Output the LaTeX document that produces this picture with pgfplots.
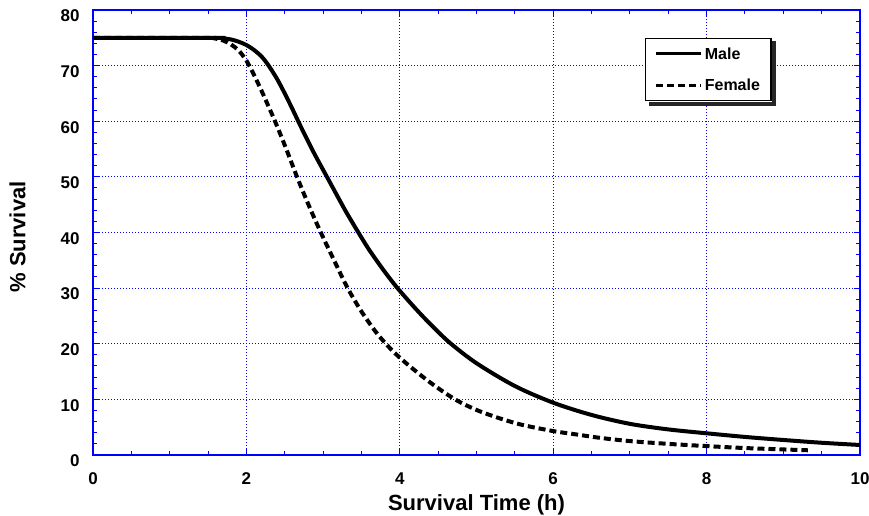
\documentclass[border=0pt]{standalone}
\usepackage{fontspec}
\setmainfont{Liberation Sans}
\usepackage{pgfplots}
\pgfplotsset{compat=1.18}
\begin{document}
\begin{tikzpicture}
\useasboundingbox (0,0) rectangle (869pt,516pt);
\begin{axis}[
  at={(93pt,61pt)}, anchor=south west,
  scale only axis, width=767pt, height=445pt,
  xmin=0, xmax=10, ymin=0, ymax=80,
  xtick={0,2,...,10}, ytick={0,10,...,80},
  minor x tick num=3, minor y tick num=4,
  tick align=inside,
  major tick length=6pt, minor tick length=4pt,
  axis line style={color=blue, line width=1.2pt},
  every tick/.style={color=blue, line width=1pt},
  grid=major,
  grid style={color=blue},
  major grid style={color=blue, line width=1pt, dash pattern=on 1pt off 2pt},
  /pgf/number format/assume math mode=true,
  tick label style={font=\fontsize{17}{17}\selectfont\bfseries},
  xticklabel style={yshift=-14pt},
  yticklabel style={xshift=-10pt, yshift=-6pt},
  xlabel={Survival Time (h)},
  ylabel={\% Survival},
  label style={font=\fontsize{22}{22}\selectfont\bfseries},
  xlabel style={at={(axis description cs:0.5,-0.1236)}, anchor=base},
  ylabel style={at={(axis description cs:-0.0984,0.49)}, anchor=center, rotate=0},
  legend style={name=leg, at={(axis cs:7.2,75)}, anchor=north west, draw=black,
    line width=1.2pt, fill=white,
    font=\fontsize{16}{16}\selectfont\bfseries,
    inner xsep=9pt, inner ysep=7pt, row sep=14pt},
  legend cell align=left,
  legend image code/.code={\draw[#1, line width=3pt] (0pt,0pt) -- (45pt,0pt);},
]
\addplot[black, line width=4pt, smooth, tension=0.5] coordinates {
(0,75) (1.6,75) (1.7,74.9) (1.8,74.7) (1.9,74.3) (2.0,73.7) (2.1,72.8)
(2.2,71.6) (2.29,70) (2.4,67.6) (2.5,65.0) (2.6,62.2) (2.7,59.3)
(2.8,56.5) (2.9,53.8) (3.05,50) (3.2,46.2) (3.3,43.7) (3.46,40)
(3.6,36.9) (3.8,33.0) (3.97,30) (4.2,26.4) (4.4,23.5) (4.65,20.2)
(5.0,16.5) (5.5,12.4) (6.0,9.4) (6.5,7.2) (7.0,5.6) (7.5,4.6)
(8.0,3.9) (8.5,3.25) (9.0,2.7) (9.5,2.2) (10,1.8)
};
\addlegendentry{Male}
\addplot[black, line width=4pt, dash pattern=on 7pt off 4pt, smooth, tension=0.5] coordinates {
(0,75) (1.5,75) (1.6,74.85) (1.7,74.5) (1.8,73.8) (1.9,72.7) (2.0,70.9)
(2.1,68.3) (2.2,65.4) (2.3,62.3) (2.37,60.1) (2.5,55.7) (2.66,50)
(2.8,45.3) (2.97,40) (3.15,34.8) (3.32,30) (3.5,25.8) (3.7,21.9)
(3.9,18.8) (4.1,16.3) (4.4,13.0) (4.72,10.0) (5.0,8.1) (5.3,6.6)
(5.6,5.4) (6.0,4.3) (6.3,3.7) (6.6,3.1) (7.0,2.5) (7.5,2.0)
(8.0,1.6) (8.5,1.25) (9.0,1.0) (9.32,0.85)
};
\addlegendentry{Female}
\end{axis}
\fill[black!85] ([shift={(3.4pt,-4.6pt)}]leg.south west) rectangle ([shift={(4.6pt,-0.6pt)}]leg.south east);
\fill[black!85] ([shift={(0.6pt,-3.4pt)}]leg.north east) rectangle ([shift={(4.6pt,-4.6pt)}]leg.south east);
\end{tikzpicture}
\end{document}
